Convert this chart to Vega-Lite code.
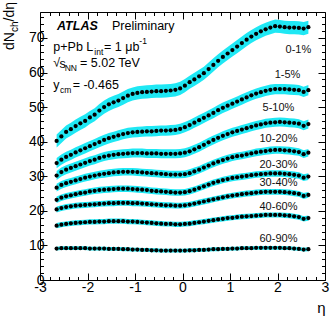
{
  "$schema": "https://vega.github.io/schema/vega-lite/v6.json",
  "width": 285,
  "height": 268,
  "autosize": {"type": "none"},
  "padding": {"left": 40, "top": 12, "right": 7, "bottom": 39},
  "background": "white",
  "config": {
    "view": {"stroke": "black", "strokeWidth": 1},
    "font": "Liberation Sans",
    "text": {"font": "Liberation Sans", "color": "black"}
  },
  "datasets": {
    "curves": [
      {"eta": -2.65, "c01": 40.2, "c15": 33.8, "c510": 30.2, "c1020": 26.7, "c2030": 23.2, "c3040": 20.4, "c4060": 15.7, "c6090": 9.1},
      {"eta": -2.55, "c01": 41.5, "c15": 34.8, "c510": 31.2, "c1020": 27.5, "c2030": 23.8, "c3040": 20.8, "c4060": 16.0, "c6090": 9.2},
      {"eta": -2.45, "c01": 42.8, "c15": 35.6, "c510": 31.9, "c1020": 28.0, "c2030": 24.2, "c3040": 21.1, "c4060": 16.2, "c6090": 9.2},
      {"eta": -2.35, "c01": 43.6, "c15": 36.2, "c510": 32.4, "c1020": 28.4, "c2030": 24.5, "c3040": 21.3, "c4060": 16.4, "c6090": 9.2},
      {"eta": -2.25, "c01": 44.5, "c15": 36.9, "c510": 32.9, "c1020": 28.8, "c2030": 24.8, "c3040": 21.5, "c4060": 16.5, "c6090": 9.2},
      {"eta": -2.15, "c01": 45.3, "c15": 37.5, "c510": 33.4, "c1020": 29.2, "c2030": 25.1, "c3040": 21.6, "c4060": 16.6, "c6090": 9.2},
      {"eta": -2.05, "c01": 46.0, "c15": 38.1, "c510": 33.9, "c1020": 29.6, "c2030": 25.3, "c3040": 21.7, "c4060": 16.7, "c6090": 9.2},
      {"eta": -1.95, "c01": 47.0, "c15": 38.7, "c510": 34.4, "c1020": 29.9, "c2030": 25.6, "c3040": 21.8, "c4060": 16.8, "c6090": 9.1},
      {"eta": -1.85, "c01": 47.8, "c15": 39.3, "c510": 34.8, "c1020": 30.2, "c2030": 25.8, "c3040": 21.9, "c4060": 16.8, "c6090": 9.1},
      {"eta": -1.75, "c01": 49.0, "c15": 39.9, "c510": 35.3, "c1020": 30.5, "c2030": 26.0, "c3040": 22.0, "c4060": 16.9, "c6090": 9.1},
      {"eta": -1.65, "c01": 50.0, "c15": 40.5, "c510": 35.7, "c1020": 30.7, "c2030": 26.1, "c3040": 22.1, "c4060": 16.9, "c6090": 9.1},
      {"eta": -1.55, "c01": 50.8, "c15": 41.0, "c510": 36.0, "c1020": 30.9, "c2030": 26.2, "c3040": 22.2, "c4060": 17.0, "c6090": 9.0},
      {"eta": -1.45, "c01": 51.4, "c15": 41.4, "c510": 36.2, "c1020": 31.1, "c2030": 26.3, "c3040": 22.2, "c4060": 17.0, "c6090": 9.0},
      {"eta": -1.35, "c01": 51.9, "c15": 41.8, "c510": 36.4, "c1020": 31.2, "c2030": 26.4, "c3040": 22.3, "c4060": 17.0, "c6090": 9.0},
      {"eta": -1.25, "c01": 52.6, "c15": 42.2, "c510": 36.5, "c1020": 31.3, "c2030": 26.4, "c3040": 22.3, "c4060": 17.0, "c6090": 8.9},
      {"eta": -1.15, "c01": 53.3, "c15": 42.5, "c510": 36.6, "c1020": 31.3, "c2030": 26.4, "c3040": 22.3, "c4060": 16.9, "c6090": 8.9},
      {"eta": -1.05, "c01": 53.8, "c15": 42.7, "c510": 36.7, "c1020": 31.3, "c2030": 26.3, "c3040": 22.2, "c4060": 16.9, "c6090": 8.8},
      {"eta": -0.95, "c01": 54.1, "c15": 42.8, "c510": 36.7, "c1020": 31.2, "c2030": 26.2, "c3040": 22.2, "c4060": 16.8, "c6090": 8.8},
      {"eta": -0.85, "c01": 54.3, "c15": 42.9, "c510": 36.7, "c1020": 31.1, "c2030": 26.1, "c3040": 22.1, "c4060": 16.7, "c6090": 8.7},
      {"eta": -0.75, "c01": 54.4, "c15": 43.0, "c510": 36.6, "c1020": 31.0, "c2030": 26.0, "c3040": 22.0, "c4060": 16.6, "c6090": 8.7},
      {"eta": -0.65, "c01": 54.5, "c15": 43.0, "c510": 36.6, "c1020": 30.9, "c2030": 25.8, "c3040": 21.9, "c4060": 16.5, "c6090": 8.6},
      {"eta": -0.55, "c01": 54.6, "c15": 43.1, "c510": 36.6, "c1020": 30.8, "c2030": 25.7, "c3040": 21.8, "c4060": 16.4, "c6090": 8.6},
      {"eta": -0.45, "c01": 54.6, "c15": 43.2, "c510": 36.5, "c1020": 30.7, "c2030": 25.6, "c3040": 21.7, "c4060": 16.3, "c6090": 8.5},
      {"eta": -0.35, "c01": 54.7, "c15": 43.2, "c510": 36.5, "c1020": 30.6, "c2030": 25.5, "c3040": 21.6, "c4060": 16.2, "c6090": 8.5},
      {"eta": -0.25, "c01": 54.8, "c15": 43.3, "c510": 36.5, "c1020": 30.5, "c2030": 25.4, "c3040": 21.6, "c4060": 16.2, "c6090": 8.5},
      {"eta": -0.15, "c01": 55.0, "c15": 43.4, "c510": 36.5, "c1020": 30.5, "c2030": 25.3, "c3040": 21.5, "c4060": 16.1, "c6090": 8.5},
      {"eta": -0.05, "c01": 55.4, "c15": 43.7, "c510": 36.6, "c1020": 30.5, "c2030": 25.3, "c3040": 21.5, "c4060": 16.1, "c6090": 8.5},
      {"eta": 0.05, "c01": 56.2, "c15": 44.2, "c510": 36.8, "c1020": 30.6, "c2030": 25.4, "c3040": 21.6, "c4060": 16.2, "c6090": 8.5},
      {"eta": 0.15, "c01": 57.2, "c15": 44.8, "c510": 37.2, "c1020": 30.9, "c2030": 25.7, "c3040": 21.8, "c4060": 16.3, "c6090": 8.6},
      {"eta": 0.25, "c01": 58.0, "c15": 45.5, "c510": 37.8, "c1020": 31.4, "c2030": 26.1, "c3040": 22.1, "c4060": 16.5, "c6090": 8.6},
      {"eta": 0.35, "c01": 58.9, "c15": 46.2, "c510": 38.4, "c1020": 31.9, "c2030": 26.6, "c3040": 22.4, "c4060": 16.7, "c6090": 8.7},
      {"eta": 0.45, "c01": 59.8, "c15": 46.9, "c510": 39.1, "c1020": 32.5, "c2030": 27.1, "c3040": 22.7, "c4060": 16.9, "c6090": 8.7},
      {"eta": 0.55, "c01": 61.0, "c15": 47.6, "c510": 39.8, "c1020": 33.1, "c2030": 27.6, "c3040": 23.0, "c4060": 17.1, "c6090": 8.8},
      {"eta": 0.65, "c01": 62.2, "c15": 48.3, "c510": 40.5, "c1020": 33.7, "c2030": 28.1, "c3040": 23.3, "c4060": 17.3, "c6090": 8.9},
      {"eta": 0.75, "c01": 63.4, "c15": 49.1, "c510": 41.1, "c1020": 34.2, "c2030": 28.5, "c3040": 23.6, "c4060": 17.5, "c6090": 8.9},
      {"eta": 0.85, "c01": 64.5, "c15": 49.8, "c510": 41.7, "c1020": 34.7, "c2030": 28.9, "c3040": 23.9, "c4060": 17.7, "c6090": 9.0},
      {"eta": 0.95, "c01": 65.5, "c15": 50.4, "c510": 42.2, "c1020": 35.1, "c2030": 29.2, "c3040": 24.2, "c4060": 17.9, "c6090": 9.0},
      {"eta": 1.05, "c01": 66.5, "c15": 51.0, "c510": 42.7, "c1020": 35.5, "c2030": 29.5, "c3040": 24.4, "c4060": 18.0, "c6090": 9.1},
      {"eta": 1.15, "c01": 67.5, "c15": 51.6, "c510": 43.1, "c1020": 35.8, "c2030": 29.7, "c3040": 24.6, "c4060": 18.2, "c6090": 9.1},
      {"eta": 1.25, "c01": 68.5, "c15": 52.2, "c510": 43.5, "c1020": 36.0, "c2030": 29.9, "c3040": 24.8, "c4060": 18.3, "c6090": 9.2},
      {"eta": 1.35, "c01": 69.5, "c15": 52.8, "c510": 43.9, "c1020": 36.3, "c2030": 30.1, "c3040": 25.0, "c4060": 18.4, "c6090": 9.2},
      {"eta": 1.45, "c01": 70.4, "c15": 53.4, "c510": 44.3, "c1020": 36.6, "c2030": 30.3, "c3040": 25.1, "c4060": 18.5, "c6090": 9.2},
      {"eta": 1.55, "c01": 71.2, "c15": 53.9, "c510": 44.7, "c1020": 36.9, "c2030": 30.5, "c3040": 25.3, "c4060": 18.6, "c6090": 9.3},
      {"eta": 1.65, "c01": 71.9, "c15": 54.3, "c510": 45.0, "c1020": 37.1, "c2030": 30.6, "c3040": 25.4, "c4060": 18.7, "c6090": 9.3},
      {"eta": 1.75, "c01": 72.5, "c15": 54.7, "c510": 45.3, "c1020": 37.3, "c2030": 30.7, "c3040": 25.5, "c4060": 18.8, "c6090": 9.3},
      {"eta": 1.85, "c01": 73.0, "c15": 55.0, "c510": 45.5, "c1020": 37.5, "c2030": 30.8, "c3040": 25.5, "c4060": 18.8, "c6090": 9.3},
      {"eta": 1.95, "c01": 73.4, "c15": 55.2, "c510": 45.6, "c1020": 37.6, "c2030": 30.8, "c3040": 25.5, "c4060": 18.8, "c6090": 9.3},
      {"eta": 2.05, "c01": 73.3, "c15": 55.2, "c510": 45.7, "c1020": 37.6, "c2030": 30.8, "c3040": 25.5, "c4060": 18.8, "c6090": 9.3},
      {"eta": 2.15, "c01": 73.1, "c15": 55.2, "c510": 45.6, "c1020": 37.5, "c2030": 30.7, "c3040": 25.4, "c4060": 18.7, "c6090": 9.2},
      {"eta": 2.25, "c01": 73.0, "c15": 55.1, "c510": 45.5, "c1020": 37.4, "c2030": 30.6, "c3040": 25.3, "c4060": 18.6, "c6090": 9.2},
      {"eta": 2.35, "c01": 73.0, "c15": 55.0, "c510": 45.4, "c1020": 37.2, "c2030": 30.4, "c3040": 25.1, "c4060": 18.4, "c6090": 9.1},
      {"eta": 2.45, "c01": 72.9, "c15": 54.9, "c510": 45.2, "c1020": 37.0, "c2030": 30.2, "c3040": 24.9, "c4060": 18.2, "c6090": 9.0},
      {"eta": 2.55, "c01": 72.7, "c15": 54.4, "c510": 44.6, "c1020": 36.4, "c2030": 29.6, "c3040": 24.3, "c4060": 17.7, "c6090": 8.8},
      {"eta": 2.65, "c01": 73.1, "c15": 54.9, "c510": 45.1, "c1020": 36.8, "c2030": 29.9, "c3040": 24.6, "c4060": 17.9, "c6090": 8.9}
    ],
    "labels": [
      {"k": "c01", "label": "0-1%", "e": 1.9, "lx": 2.44, "ly": 66.5},
      {"k": "c15", "label": "1-5%", "e": 1.5, "lx": 2.21, "ly": 59.3},
      {"k": "c510", "label": "5-10%", "e": 1.3, "lx": 2.02, "ly": 49.6},
      {"k": "c1020", "label": "10-20%", "e": 1.1, "lx": 2.02, "ly": 40.7},
      {"k": "c2030", "label": "20-30%", "e": 0.95, "lx": 2.02, "ly": 33.3},
      {"k": "c3040", "label": "30-40%", "e": 0.85, "lx": 2.02, "ly": 28.0},
      {"k": "c4060", "label": "40-60%", "e": 0.75, "lx": 2.02, "ly": 21.2},
      {"k": "c6090", "label": "60-90%", "e": 0.55, "lx": 2.02, "ly": 11.8}
    ],
    "notes": [
      {"t": "Preliminary", "x": -1.484, "y": 73.45},
      {"t": "p+Pb L", "x": -2.72, "y": 67.3},
      {"t": "= 1 μb", "x": -1.653, "y": 67.3},
      {"t": "√", "x": -2.72, "y": 62.7},
      {"t": "s", "x": -2.59, "y": 62.5},
      {"t": "= 5.02 TeV", "x": -2.158, "y": 62.7},
      {"t": "y", "x": -2.72, "y": 56.4},
      {"t": "= -0.465", "x": -2.312, "y": 56.4}
    ],
    "subs": [
      {"t": "int", "x": -1.857, "y": 65.8},
      {"t": "-1", "x": -0.909, "y": 69.2},
      {"t": "NN", "x": -2.48, "y": 61.2},
      {"t": "cm", "x": -2.579, "y": 54.9}
    ],
    "ytitle": [
      {"t": "dN", "x": -3.632, "y": 66.5},
      {"t": "/dη", "x": -3.632, "y": 74.75}
    ],
    "ytitlesub": [
      {"t": "ch", "x": -3.526, "y": 71.7}
    ]
  },
  "layer": [
    {
      "data": {"name": "curves"},
      "transform": [
        {"fold": ["c01", "c15", "c510", "c1020", "c2030", "c3040", "c4060", "c6090"], "as": ["k", "v"]},
        {"lookup": "k", "from": {"data": {"name": "labels"}, "key": "k", "fields": ["e"]}}
      ],
      "mark": {"type": "errorband", "color": "#1fe8f4", "opacity": 1, "band": {"opacity": 1, "color": "#1fe8f4"}},
      "encoding": {
        "x": {
          "field": "eta", "type": "quantitative",
          "scale": {"domain": [-3, 3], "nice": false, "zero": false},
          "axis": {
            "orient": "bottom",
            "values": [-3, -2.8, -2.6, -2.4, -2.2, -2, -1.8, -1.6, -1.4, -1.2, -1, -0.8, -0.6, -0.4, -0.2, 0, 0.2, 0.4, 0.6, 0.8, 1, 1.2, 1.4, 1.6, 1.8, 2, 2.2, 2.4, 2.6, 2.8, 3],
            "labelExpr": "datum.value % 1 === 0 ? (datum.value < 0 ? '-' + abs(datum.value) : '' + datum.value) : ''",
            "tickSize": {"condition": {"test": "datum.value % 1 === 0", "value": -7}, "value": -3.5},
            "tickColor": "black", "tickWidth": 1,
            "domain": false, "grid": false,
            "labelOverlap": false, "labelFlush": false,
            "labelFont": "Liberation Sans", "labelFontSize": 14, "labelColor": "black", "labelPadding": 7,
            "title": "η", "titleFont": "Liberation Sans", "titleFontSize": 15, "titleFontWeight": "normal", "titleColor": "black",
            "titleAnchor": "end", "titlePadding": 3
          }
        },
        "y": {
          "field": "v", "type": "quantitative",
          "scale": {"domain": [0, 77.5], "nice": false, "zero": false},
          "axis": {
            "orient": "left",
            "values": [0, 2, 4, 6, 8, 10, 12, 14, 16, 18, 20, 22, 24, 26, 28, 30, 32, 34, 36, 38, 40, 42, 44, 46, 48, 50, 52, 54, 56, 58, 60, 62, 64, 66, 68, 70, 72, 74, 76],
            "labelExpr": "datum.value % 10 === 0 ? '' + datum.value : ''",
            "tickSize": {"condition": {"test": "datum.value % 10 === 0", "value": -7}, "value": -3.5},
            "tickColor": "black", "tickWidth": 1,
            "domain": false, "grid": false,
            "labelOverlap": false, "labelFlush": false,
            "labelFont": "Liberation Sans", "labelFontSize": 14, "labelColor": "black", "labelPadding": 3,
            "title": null
          }
        },
        "yError": {"field": "e"},
        "detail": {"field": "k"}
      }
    },
    {
      "data": {"name": "curves"},
      "transform": [
        {"fold": ["c01", "c15", "c510", "c1020", "c2030", "c3040", "c4060", "c6090"], "as": ["k", "v"]}
      ],
      "mark": {"type": "point", "filled": true, "color": "black", "opacity": 1, "size": 18},
      "encoding": {
        "x": {"field": "eta", "type": "quantitative", "scale": {"domain": [-3, 3], "nice": false, "zero": false}, "axis": null},
        "y": {"field": "v", "type": "quantitative", "scale": {"domain": [0, 77.5], "nice": false, "zero": false}, "axis": null},
        "detail": {"field": "k"}
      }
    },
    {
      "data": {"name": "labels"},
      "mark": {"type": "text", "fontSize": 11, "align": "center", "baseline": "middle", "color": "#111"},
      "encoding": {
        "x": {
          "field": "lx", "type": "quantitative",
          "scale": {"domain": [-3, 3], "nice": false, "zero": false},
          "axis": {
            "orient": "top",
            "values": [-3, -2.8, -2.6, -2.4, -2.2, -2, -1.8, -1.6, -1.4, -1.2, -1, -0.8, -0.6, -0.4, -0.2, 0, 0.2, 0.4, 0.6, 0.8, 1, 1.2, 1.4, 1.6, 1.8, 2, 2.2, 2.4, 2.6, 2.8, 3],
            "labels": false, "domain": false, "grid": false, "title": null,
            "tickSize": {"condition": {"test": "datum.value % 1 === 0", "value": -7}, "value": -3.5},
            "tickColor": "black", "tickWidth": 1
          }
        },
        "y": {
          "field": "ly", "type": "quantitative",
          "scale": {"domain": [0, 77.5], "nice": false, "zero": false},
          "axis": {
            "orient": "right",
            "values": [0, 2, 4, 6, 8, 10, 12, 14, 16, 18, 20, 22, 24, 26, 28, 30, 32, 34, 36, 38, 40, 42, 44, 46, 48, 50, 52, 54, 56, 58, 60, 62, 64, 66, 68, 70, 72, 74, 76],
            "labels": false, "domain": false, "grid": false, "title": null,
            "tickSize": {"condition": {"test": "datum.value % 10 === 0", "value": -7}, "value": -3.5},
            "tickColor": "black", "tickWidth": 1
          }
        },
        "text": {"field": "label"}
      }
    },
    {
      "data": {"values": [{"t": "ATLAS", "x": -2.642, "y": 73.45}]},
      "mark": {"type": "text", "fontSize": 12.5, "fontWeight": "bold", "fontStyle": "italic", "align": "left", "baseline": "middle"},
      "encoding": {
        "x": {"field": "x", "type": "quantitative", "scale": {"domain": [-3, 3], "nice": false, "zero": false}, "axis": null},
        "y": {"field": "y", "type": "quantitative", "scale": {"domain": [0, 77.5], "nice": false, "zero": false}, "axis": null},
        "text": {"field": "t"}
      }
    },
    {
      "data": {"name": "notes"},
      "mark": {"type": "text", "fontSize": 12.5, "align": "left", "baseline": "middle"},
      "encoding": {
        "x": {"field": "x", "type": "quantitative", "scale": {"domain": [-3, 3], "nice": false, "zero": false}, "axis": null},
        "y": {"field": "y", "type": "quantitative", "scale": {"domain": [0, 77.5], "nice": false, "zero": false}, "axis": null},
        "text": {"field": "t"}
      }
    },
    {
      "data": {"name": "subs"},
      "mark": {"type": "text", "fontSize": 8.5, "align": "left", "baseline": "middle"},
      "encoding": {
        "x": {"field": "x", "type": "quantitative", "scale": {"domain": [-3, 3], "nice": false, "zero": false}, "axis": null},
        "y": {"field": "y", "type": "quantitative", "scale": {"domain": [0, 77.5], "nice": false, "zero": false}, "axis": null},
        "text": {"field": "t"}
      }
    },
    {
      "data": {"name": "ytitle"},
      "mark": {"type": "text", "fontSize": 14, "align": "left", "baseline": "middle", "angle": 270},
      "encoding": {
        "x": {"field": "x", "type": "quantitative", "scale": {"domain": [-3, 3], "nice": false, "zero": false}, "axis": null},
        "y": {"field": "y", "type": "quantitative", "scale": {"domain": [0, 77.5], "nice": false, "zero": false}, "axis": null},
        "text": {"field": "t"}
      }
    },
    {
      "data": {"name": "ytitlesub"},
      "mark": {"type": "text", "fontSize": 10, "align": "left", "baseline": "middle", "angle": 270},
      "encoding": {
        "x": {"field": "x", "type": "quantitative", "scale": {"domain": [-3, 3], "nice": false, "zero": false}, "axis": null},
        "y": {"field": "y", "type": "quantitative", "scale": {"domain": [0, 77.5], "nice": false, "zero": false}, "axis": null},
        "text": {"field": "t"}
      }
    }
  ],
  "resolve": {"axis": {"x": "independent", "y": "independent"}}
}
